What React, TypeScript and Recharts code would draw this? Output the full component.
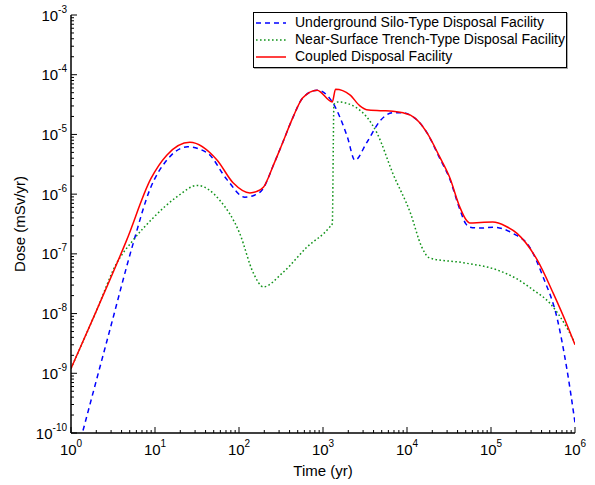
import { LineChart, Line, XAxis, YAxis, Legend } from "recharts";

const FONT = "'Liberation Sans', Arial, sans-serif";

// Axis decades and minor-tick multipliers
const xExponents = [0, 1, 2, 3, 4, 5, 6];
const yExponents = [-10, -9, -8, -7, -6, -5, -4, -3];
const minorSteps = [2, 3, 4, 5, 6, 7, 8, 9];

// ── Series values (time in yr, dose in mSv/yr) ─────────────────────────────
const siloTime = [
  1.39, 2.91, 5.5, 8.7, 13.8, 24.5, 42, 72, 117, 150, 195, 224, 250, 288, 330,
  440, 575, 850, 1290, 1950, 2400, 3300, 4800, 6800, 9000, 11000, 14000, 17400,
  24500, 32000, 42700, 50000, 56000, 75000, 105000, 182000, 288000, 417000,
  617000, 794000, 1000000,
];
const siloDose = [
  1.1e-10, 5.4e-9, 1.5e-7, 1.2e-6, 3.7e-6, 6.2e-6, 4.9e-6, 1.75e-6, 8.9e-7,
  9.5e-7, 1.25e-6, 1.9e-6, 2.8e-6, 4.5e-6, 7.2e-6, 1.95e-5, 4.1e-5, 5.5e-5,
  3.5e-5, 9.1e-6, 3.7e-6, 7.2e-6, 1.7e-5, 2.3e-5, 2.3e-5, 2.1e-5, 1.6e-5,
  1.05e-5, 4.0e-6, 1.85e-6, 5.5e-7, 3.2e-7, 2.8e-7, 2.7e-7, 2.8e-7, 2.2e-7,
  1.3e-7, 4.1e-8, 8e-9, 1.26e-9, 1.5e-10,
];

const trenchTime = [
  1, 2, 3.5, 5.5, 9.5, 18, 32, 59, 102, 148, 195, 330, 645, 1200, 1290, 1350,
  1510, 2500, 4400, 6800, 11000, 15000, 18600, 47000, 117000, 204000, 316000,
  500000, 794000, 1000000,
];
const trenchDose = [
  1.2e-9, 1.1e-8, 7e-8, 1.7e-7, 4e-7, 8.9e-7, 1.4e-6, 7.9e-7, 2.2e-7, 4.8e-8,
  2.8e-8, 4.8e-8, 1.3e-7, 2.8e-7, 3.2e-7, 3.2e-5, 3.5e-5, 2.8e-5, 1.05e-5,
  2.2e-6, 4.8e-7, 1.3e-7, 8.5e-8, 7.1e-8, 5.4e-8, 3.8e-8, 2.5e-8, 1.5e-8,
  5.9e-9, 3.2e-9,
];

const coupledTime = [
  1, 2, 4.6, 8.9, 13.8, 26, 55, 85, 135, 160, 195, 224, 250, 288, 330, 440, 575,
  850, 1290, 1410, 2090, 2750, 3300, 4800, 6800, 9000, 11000, 14000, 17400,
  24500, 32000, 42700, 50000, 56000, 75000, 105000, 150000, 204000, 355000,
  550000, 830000, 1000000,
];
const coupledDose = [
  1.2e-9, 1.1e-8, 1.7e-7, 1.8e-6, 4.5e-6, 7.4e-6, 3.7e-6, 1.55e-6, 1.05e-6,
  1.1e-6, 1.3e-6, 1.9e-6, 2.8e-6, 4.5e-6, 7.2e-6, 1.95e-5, 4.1e-5, 5.5e-5,
  3.5e-5, 5.7e-5, 4.6e-5, 3.0e-5, 2.6e-5, 2.5e-5, 2.45e-5, 2.3e-5, 2.1e-5,
  1.6e-5, 1.05e-5, 4.2e-6, 1.95e-6, 6.0e-7, 3.8e-7, 3.3e-7, 3.35e-7, 3.4e-7,
  2.9e-7, 2.2e-7, 7.9e-8, 2.2e-8, 5.8e-9, 3.0e-9,
];

const zip = (t: number[], d: number[]) => t.map((time, i) => ({ time, dose: d[i] }));

const series = [
  { key: "silo", name: "Underground Silo-Type Disposal Facility", data: zip(siloTime, siloDose), color: "#0000ff", dash: "5 4" },
  { key: "trench", name: "Near-Surface Trench-Type Disposal Facility", data: zip(trenchTime, trenchDose), color: "#11931a", dash: "1.6 2.4" },
  { key: "coupled", name: "Coupled Disposal Facility", data: zip(coupledTime, coupledDose), color: "#ff0000", dash: undefined },
];

const logTicks = (exps: number[]) => {
  const out: number[] = [];
  exps.forEach((e, i) => {
    out.push(10 ** e);
    if (i < exps.length - 1) minorSteps.forEach((m) => out.push(m * 10 ** e));
  });
  return out;
};
const xTicks = logTicks(xExponents);
const yTicks = logTicks(yExponents);

const decade = (v: number) => {
  const e = Math.log10(v);
  return Math.abs(e - Math.round(e)) < 1e-6 ? Math.round(e) : null;
};

function XTick(props: any) {
  const { x, y, payload } = props;
  const e = decade(payload.value);
  return (
    <g>
      <line x1={x} x2={x} y1={y} y2={y - (e !== null ? 6 : 3)} stroke="#000" />
      {e !== null && (
        <text x={x} y={y + 22} textAnchor="middle" fontSize={15} fill="#000" fontFamily={FONT}>
          10<tspan dy={-8} fontSize={10}>{e}</tspan>
        </text>
      )}
    </g>
  );
}

function YTick(props: any) {
  const { x, y, payload } = props;
  const e = decade(payload.value);
  return (
    <g>
      <line x1={x} x2={x + (e !== null ? 6 : 3)} y1={y} y2={y} stroke="#000" />
      {e !== null && (
        <text x={x - 4} y={y + 5.5} textAnchor="end" fontSize={15} fill="#000" fontFamily={FONT}>
          10<tspan dy={-8} fontSize={10}>{e}</tspan>
        </text>
      )}
    </g>
  );
}

function LegendBox() {
  return (
    <div
      style={{
        boxSizing: "border-box",
        width: 314,
        height: 56,
        border: "1px solid #000",
        background: "#fff",
        boxShadow: "1px 1px 0 #aaa",
        padding: "1px 0 0 2px",
        fontFamily: FONT,
        fontSize: 14,
        color: "#000",
      }}
    >
      {series.map((s) => (
        <div key={s.key} style={{ display: "flex", alignItems: "center", height: 17 }}>
          <svg width={30} height={6} style={{ marginRight: 9 }}>
            <line x1={0} x2={30} y1={3} y2={3} stroke={s.color} strokeWidth={1.5} strokeDasharray={s.dash} />
          </svg>
          <span style={{ lineHeight: "17px", whiteSpace: "nowrap" }}>{s.name}</span>
        </div>
      ))}
    </div>
  );
}

export default function App() {
  return (
    <div style={{ position: "absolute", left: 0, top: 0, fontFamily: FONT, background: "#fff" }}>
      <LineChart width={595} height={485} margin={{ top: 15, right: 20, bottom: 0, left: 0 }}>
        <XAxis
          dataKey="time"
          type="number"
          scale="log"
          domain={[1, 1e6]}
          allowDataOverflow
          ticks={xTicks}
          interval={0}
          height={52}
          tickSize={0}
          tickMargin={0}
          tickLine={false}
          axisLine={{ stroke: "#000", strokeWidth: 1.5 }}
          tick={(p: any) => <XTick {...p} />}
          label={{ value: "Time (yr)", position: "insideBottom", offset: 9, style: { fontSize: 15, fill: "#000" } }}
        />
        <YAxis
          dataKey="dose"
          type="number"
          scale="log"
          domain={[1e-10, 1e-3]}
          allowDataOverflow
          ticks={yTicks}
          interval={0}
          width={71}
          tickSize={0}
          tickMargin={0}
          tickLine={false}
          axisLine={{ stroke: "#000", strokeWidth: 1.5 }}
          tick={(p: any) => <YTick {...p} />}
          label={{
            value: "Dose (mSv/yr)",
            angle: -90,
            position: "insideLeft",
            offset: 20,
            style: { textAnchor: "middle", fontSize: 15, fill: "#000" },
          }}
        />
        <Legend
          layout="horizontal"
          verticalAlign="middle"
          align="center"
          wrapperStyle={{ left: 253, top: 12, width: 314 }}
          content={() => <LegendBox />}
        />
        {series.map((s) => (
          <Line
            key={s.key}
            data={s.data}
            dataKey="dose"
            name={s.name}
            type="monotone"
            stroke={s.color}
            strokeWidth={1.5}
            strokeDasharray={s.dash}
            dot={false}
            activeDot={false}
            isAnimationActive={false}
          />
        ))}
      </LineChart>
    </div>
  );
}
